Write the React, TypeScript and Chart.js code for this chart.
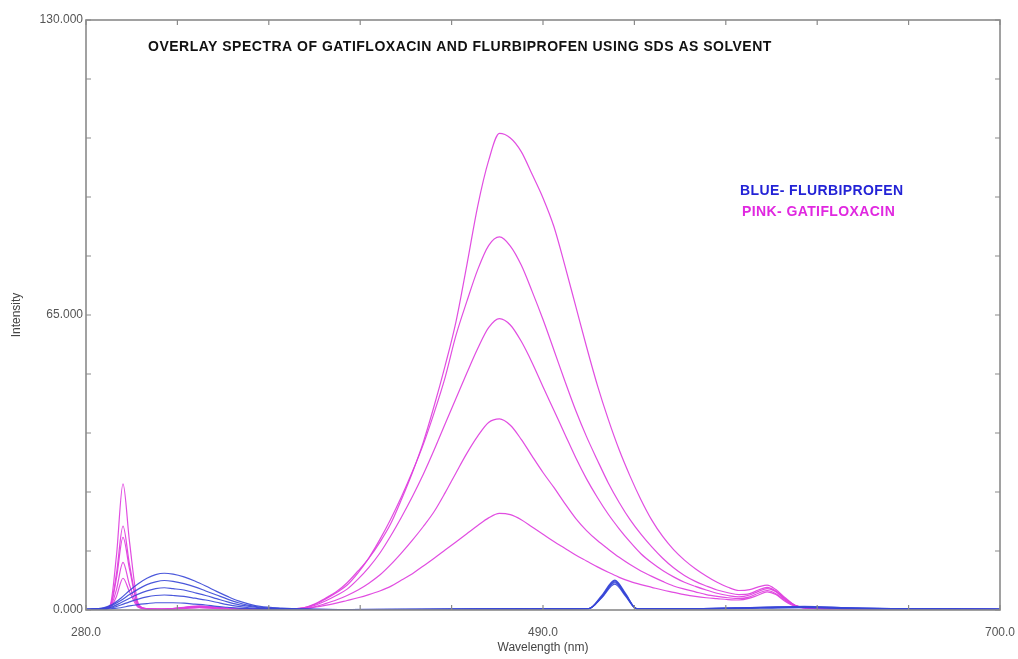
import React, { useEffect, useRef } from "react";
import { Chart, registerables } from "chart.js";

Chart.register(...registerables);

// ---------- DATA ----------
const pinkWavelengths = [
  280, 287, 291, 294, 297, 300, 304, 308, 315, 325, 332, 340, 350, 360, 370,
  380, 385, 390, 395, 400, 405, 410, 415, 420, 425, 430, 435, 440, 445, 450,
  455, 460, 465, 470, 475, 480, 485, 490, 495, 500, 505, 510, 515, 520, 525,
  530, 535, 540, 545, 550, 555, 560, 565, 570, 575, 580, 585,
  589, 593, 597, 601, 606, 612, 625, 650, 700,
];

const gati1 = [
  0, 0.3, 1.0, 12, 27.8, 15, 1.5, 0.3, 0.2, 0.6, 0.9, 0.6, 0.3, 0.2, 0.2,
  0.5, 1.3, 2.6, 4.0, 6.0, 8.6, 11.4, 14.9, 19, 24.4, 30.3, 37, 45, 53.8, 63.5,
  76, 89, 99, 105, 104, 101, 96, 90.8, 84.5, 76, 67, 58, 49.5, 42, 35.3,
  29.5, 24.3, 19.8, 16.2, 13.3, 11.0, 9.1, 7.5, 6.1, 5.0, 4.3, 4.5,
  5.1, 5.5, 4.5, 2.8, 1.0, 0.4, 0.3, 0.2, 0.1,
];

const gati2 = [
  0, 0.3, 0.8, 8, 18.5, 10, 1.2, 0.3, 0.2, 0.5, 0.8, 0.5, 0.3, 0.2, 0.2,
  0.5, 1.2, 2.4, 3.8, 5.5, 8.2, 11.5, 15.5, 20, 25, 30.5, 36.5, 43.5, 51.2, 60.5,
  68, 75, 80.3, 82.2, 80.2, 76, 70.2, 64, 57.3, 50.5, 44, 38.2, 33, 28, 23.7,
  19.9, 16.7, 13.9, 11.4, 9.3, 7.6, 6.3, 5.3, 4.4, 3.8, 3.4, 3.6,
  4.4, 5.0, 4.2, 2.6, 1.0, 0.4, 0.3, 0.2, 0.1,
];

const gati3 = [
  0, 0.2, 0.7, 7, 16, 9, 1.0, 0.3, 0.2, 0.5, 0.7, 0.5, 0.3, 0.2, 0.2,
  0.4, 1.0, 2.0, 3.2, 4.6, 6.8, 9.4, 12.5, 16.3, 20.5, 25, 29.9, 35.3, 41, 46.6,
  52.2, 57.6, 62.2, 64.2, 62.8, 59.2, 54.5, 49.2, 44, 38.8, 33.6, 28.9, 24.8, 21.1, 17.9,
  15, 12.4, 10.4, 8.7, 7.3, 6.1, 5.2, 4.4, 3.7, 3.2, 2.9, 3.3,
  4.1, 4.7, 4.0, 2.4, 1.0, 0.4, 0.3, 0.2, 0.1,
];

const gati4 = [
  0, 0.2, 0.6, 4.5, 10.5, 5.5, 0.8, 0.2, 0.2, 0.4, 0.6, 0.4, 0.2, 0.2, 0.2,
  0.3, 0.7, 1.4, 2.2, 3.2, 4.4, 5.9, 7.7, 10, 12.6, 15.4, 18.4, 21.7, 25.8, 30.2,
  34.5, 38.3, 41.3, 42.1, 40.7, 37.6, 33.9, 30.3, 27, 23.5, 20.2, 17.5, 15.3, 13.4, 11.6,
  10, 8.6, 7.4, 6.3, 5.3, 4.6, 4.0, 3.4, 3.0, 2.7, 2.5, 2.9,
  3.7, 4.3, 3.6, 2.2, 0.9, 0.4, 0.3, 0.2, 0.1,
];

const gati5 = [
  0, 0.2, 0.5, 3, 7, 4, 0.6, 0.2, 0.1, 0.3, 0.5, 0.3, 0.2, 0.1, 0.2,
  0.3, 0.6, 1.0, 1.5, 2.1, 2.7, 3.4, 4.2, 5.2, 6.6, 8.0, 9.7, 11.4, 13.2, 15,
  16.8, 18.6, 20.3, 21.3, 21, 19.9, 18.3, 16.7, 15.1, 13.6, 12.1, 10.8, 9.5, 8.3, 7.2,
  6.3, 5.6, 5.0, 4.4, 3.9, 3.4, 3.0, 2.7, 2.5, 2.3, 2.2, 2.6,
  3.3, 4.0, 3.4, 2.0, 0.8, 0.4, 0.3, 0.2, 0.1,
];

const blueWavelengths = [
  280, 288, 292, 296, 300, 304, 308, 312, 316, 320, 325, 330, 335, 340, 345,
  350, 355, 360, 370, 380, 400, 450, 500, 511, 517, 523, 528, 533, 560, 590,
  610, 630, 650, 700,
];

const flur1 = [
  0.2, 0.5, 1.2, 2.6, 4.3, 5.8, 7.0, 7.8, 8.1, 7.9, 7.3, 6.4, 5.3, 4.1, 3.0,
  2.0, 1.3, 0.8, 0.4, 0.2, 0.1, 0.2, 0.3, 0.3, 3.2, 6.6, 3.6, 0.3, 0.3, 0.6,
  0.8, 0.5, 0.3, 0.2,
];
const flur2 = [
  0.2, 0.4, 1.0, 2.1, 3.4, 4.6, 5.6, 6.2, 6.5, 6.3, 5.8, 5.1, 4.2, 3.3, 2.4,
  1.6, 1.0, 0.6, 0.3, 0.2, 0.1, 0.2, 0.3, 0.3, 3.0, 6.4, 3.4, 0.3, 0.3, 0.6,
  0.7, 0.5, 0.3, 0.2,
];
const flur3 = [
  0.2, 0.3, 0.7, 1.6, 2.6, 3.5, 4.2, 4.7, 4.9, 4.7, 4.4, 3.8, 3.2, 2.5, 1.8,
  1.2, 0.8, 0.5, 0.3, 0.2, 0.1, 0.2, 0.3, 0.3, 2.9, 6.2, 3.3, 0.3, 0.3, 0.5,
  0.7, 0.4, 0.3, 0.2,
];
const flur4 = [
  0.1, 0.2, 0.5, 1.1, 1.8, 2.4, 2.9, 3.2, 3.3, 3.2, 3.0, 2.6, 2.2, 1.7, 1.2,
  0.8, 0.5, 0.3, 0.2, 0.1, 0.1, 0.2, 0.2, 0.3, 2.8, 6.0, 3.2, 0.3, 0.3, 0.5,
  0.6, 0.4, 0.2, 0.2,
];
const flur5 = [
  0.1, 0.1, 0.3, 0.5, 0.9, 1.2, 1.4, 1.6, 1.6, 1.6, 1.5, 1.3, 1.1, 0.8, 0.6,
  0.4, 0.3, 0.2, 0.1, 0.1, 0.1, 0.1, 0.2, 0.3, 2.7, 5.7, 3.0, 0.3, 0.2, 0.4,
  0.5, 0.3, 0.2, 0.1,
];

const xTickLabels = [280, 490, 700];
const yTickLabels = [0, 65, 130];

const chartTitle = "OVERLAY SPECTRA OF GATIFLOXACIN AND FLURBIPROFEN USING SDS AS SOLVENT";
const legendBlue = "BLUE- FLURBIPROFEN";
const legendPink = "PINK- GATIFLOXACIN";

const PINK = "rgba(222, 62, 222, 0.92)";
const BLUE_BROAD = "rgba(55, 70, 215, 0.9)";
const FONT = "'Liberation Sans', Arial, sans-serif";

function toPoints(xs: number[], ys: number[]) {
  return xs.map((x, i) => ({ x, y: ys[i] }));
}

const framePlugin = {
  id: "framePlugin",
  afterDatasetsDraw(chart: any) {
    const { ctx, chartArea } = chart;
    const { left, right, top, bottom } = chartArea;
    const xs = chart.scales.x;
    const ys = chart.scales.y;
    ctx.save();
    ctx.strokeStyle = "#8a8a8a";
    ctx.lineWidth = 1.6;
    ctx.strokeRect(left, top, right - left, bottom - top);
    ctx.lineWidth = 1.2;
    ctx.beginPath();
    ys.ticks.forEach((t: any) => {
      const py = ys.getPixelForValue(t.value);
      ctx.moveTo(left, py);
      ctx.lineTo(left + 5, py);
      ctx.moveTo(right, py);
      ctx.lineTo(right - 5, py);
    });
    xs.ticks.forEach((t: any) => {
      const px = xs.getPixelForValue(t.value);
      ctx.moveTo(px, bottom);
      ctx.lineTo(px, bottom - 5);
      ctx.moveTo(px, top);
      ctx.lineTo(px, top + 5);
    });
    ctx.stroke();

    ctx.textBaseline = "middle";
    ctx.textAlign = "left";
    ctx.fillStyle = "#111";
    ctx.font = `bold 14px ${FONT}`;
    (ctx as any).letterSpacing = "0.5px";
    ctx.fillText(chartTitle, left + 62, top + 27);

    ctx.font = `bold 14px ${FONT}`;
    (ctx as any).letterSpacing = "0.4px";
    ctx.fillStyle = "#2323d6";
    ctx.fillText(legendBlue, left + 654, top + 171);
    ctx.fillStyle = "#e028e0";
    ctx.fillText(legendPink, left + 656, top + 192);
    ctx.restore();
  },
};

export default function App() {
  const canvasRef = useRef<HTMLCanvasElement | null>(null);

  useEffect(() => {
    if (!canvasRef.current) return;
    const pinkSets = [gati1, gati2, gati3, gati4, gati5];
    const blueSets = [flur1, flur2, flur3, flur4, flur5];
    const datasets: any[] = [];
    blueSets.forEach((ys, i) =>
      datasets.push({
        label: `Flurbiprofen ${i + 1}`,
        data: toPoints(blueWavelengths, ys),
        borderColor: BLUE_BROAD,
        borderWidth: 1.2,
        pointRadius: 0,
        fill: false,
        cubicInterpolationMode: "monotone",
      })
    );
    pinkSets.forEach((ys, i) =>
      datasets.push({
        label: `Gatifloxacin ${i + 1}`,
        data: toPoints(pinkWavelengths, ys),
        borderColor: PINK,
        borderWidth: 1.2,
        pointRadius: 0,
        fill: false,
        cubicInterpolationMode: "monotone",
      })
    );

    const chart = new Chart(canvasRef.current, {
      type: "line",
      data: { datasets },
      options: {
        responsive: false,
        animation: false,
        layout: { padding: { top: 20, right: 18, left: 0, bottom: 0 } },
        plugins: { legend: { display: false }, tooltip: { enabled: false } },
        scales: {
          x: {
            type: "linear",
            min: 280,
            max: 700,
            grid: { display: false, drawTicks: false },
            border: { display: false },
            afterFit: (s: any) => {
              s.height = 49;
              s.paddingLeft = 0;
              s.paddingRight = 0;
            },
            ticks: {
              stepSize: 42,
              autoSkip: false,
              maxRotation: 0,
              padding: 15,
              color: "#555",
              font: { family: FONT, size: 12 },
              callback: (v: any) => (xTickLabels.includes(Number(v)) ? Number(v).toFixed(1) : ""),
            },
            title: {
              display: true,
              text: "Wavelength (nm)",
              color: "#444",
              font: { family: FONT, size: 12 },
              padding: { top: 0, bottom: 4 },
            },
          },
          y: {
            type: "linear",
            min: 0,
            max: 130,
            grid: { display: false, drawTicks: false },
            border: { display: false },
            afterFit: (s: any) => {
              s.width = 86;
              s.paddingTop = 0;
              s.paddingBottom = 0;
            },
            ticks: {
              stepSize: 13,
              autoSkip: false,
              padding: 3,
              color: "#555",
              font: { family: FONT, size: 12 },
              callback: (v: any) => (yTickLabels.includes(Number(v)) ? Number(v).toFixed(3) : ""),
            },
            title: {
              display: true,
              text: "Intensity",
              color: "#444",
              font: { family: FONT, size: 12 },
              padding: { top: 9, bottom: 0 },
            },
          },
        },
      },
      plugins: [framePlugin],
    });
    return () => chart.destroy();
  }, []);

  return (
    <div style={{ position: "fixed", left: 0, top: 0, width: 1018, height: 659, background: "#fff" }}>
      <canvas ref={canvasRef} width={1018} height={659} style={{ display: "block" }} />
    </div>
  );
}
